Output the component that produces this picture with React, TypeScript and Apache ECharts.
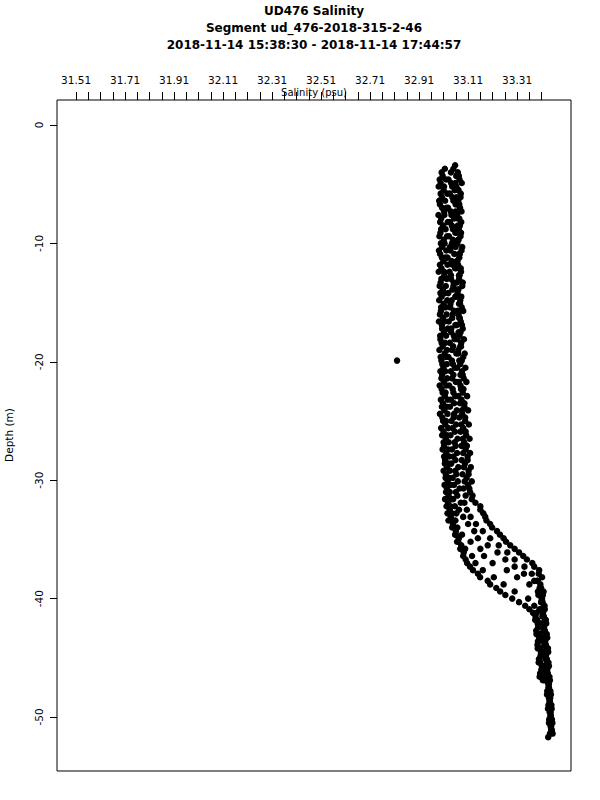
import React, { useEffect, useRef } from "react";
import * as echarts from "echarts";

const titleLines = [
  "UD476 Salinity",
  "Segment ud_476-2018-315-2-46",
  "2018-11-14 15:38:30 - 2018-11-14 17:44:57",
];
const xAxisName = "Salinity (psu)";
const yAxisName = "Depth (m)";

const salinityLabels = [31.51, 31.71, 31.91, 32.11, 32.31, 32.51, 32.71, 32.91, 33.11, 33.31];
const salinityTicks = [
  31.51, 31.56, 31.61, 31.66, 31.71, 31.76, 31.81, 31.86, 31.91, 31.96,
  32.01, 32.06, 32.11, 32.16, 32.21, 32.26, 32.31, 32.36, 32.41, 32.46,
  32.51, 32.56, 32.61, 32.66, 32.71, 32.76, 32.81, 32.86, 32.91, 32.96,
  33.01, 33.06, 33.11, 33.16, 33.21, 33.26, 33.31, 33.36, 33.41,
];
const depthLabels = [0, -10, -20, -30, -40, -50];

// depth grids (m, positive down)
const depthGridA = [
  3.4, 4.0, 4.6, 5.2, 5.8, 6.4, 7.0, 7.6, 8.2, 8.8,
  9.4, 10.0, 10.6, 11.2, 11.8, 12.4, 13.0, 13.6, 14.2, 14.8,
  15.4, 16.0, 16.6, 17.2, 17.8, 18.4, 19.0, 19.6, 20.2, 20.8,
  21.4, 22.0, 22.6, 23.2, 23.8, 24.4, 25.0, 25.6, 26.2, 26.8,
  27.4, 28.0, 28.6, 29.2, 29.8, 30.4, 31.0, 31.6, 32.2, 32.8,
  33.4, 34.0, 34.6, 35.2, 35.8, 36.4, 37.0, 37.6, 38.2, 38.8,
  39.4, 40.0, 40.6, 41.2, 41.8, 42.4, 43.0, 43.6, 44.2, 44.8,
  45.4, 46.0, 46.6, 47.2, 47.8, 48.4, 49.0, 49.6, 50.2, 50.8, 51.4,
];
const depthGridB = [
  3.7, 4.3, 4.9, 5.5, 6.1, 6.7, 7.3, 7.9, 8.5, 9.1,
  9.7, 10.3, 10.9, 11.5, 12.1, 12.7, 13.3, 13.9, 14.5, 15.1,
  15.7, 16.3, 16.9, 17.5, 18.1, 18.7, 19.3, 19.9, 20.5, 21.1,
  21.7, 22.3, 22.9, 23.5, 24.1, 24.7, 25.3, 25.9, 26.5, 27.1,
  27.7, 28.3, 28.9, 29.5, 30.1, 30.7, 31.3, 31.9, 32.5, 33.1,
  33.7, 34.3, 34.9, 35.5, 36.1, 36.7, 37.3, 37.9, 38.5, 39.1,
  39.7, 40.3, 40.9, 41.5, 42.1, 42.7, 43.3, 43.9, 44.5, 45.1,
  45.7, 46.3, 46.9, 47.5, 48.1, 48.7, 49.3, 49.9, 50.5, 51.1, 51.7,
];

// salinity (psu) per dive, on grid A
const diveA1 = [
  null, 33.002, 32.994, 32.990, 32.998, 32.992, 33.004, 32.989, 32.996, 33.000,
  32.993, 32.999, 32.991, 33.003, 32.995, 32.990, 33.001, 32.994, 32.997, 32.992,
  33.000, 32.995, 32.991, 33.004, 32.996, 33.002, 32.993, 32.998, 33.005, 32.997,
  33.001, 32.994, 33.006, 32.999, 33.003, 32.995, 33.008, 33.000, 33.004, 33.010,
  33.006, 33.012, 33.015, 33.010, 33.018, 33.014, 33.020, 33.016, 33.022, 33.026,
  33.030, 33.045, 33.057, 33.065, 33.078, 33.090, 33.106, 33.130, 33.159, 33.200,
  33.241, 33.290, 33.343, 33.375, 33.392, 33.398, 33.402, 33.395, 33.405, 33.410,
  33.404, 33.412, 33.418, null, null, null, null, null, null, null, null,
];
const diveA2 = [
  33.057, 33.040, 33.030, 33.045, 33.035, 33.050, 33.028, 33.042, 33.036, 33.048,
  33.032, 33.044, 33.038, 33.026, 33.046, 33.034, 33.040, 33.050, 33.029, 33.043,
  33.037, 33.047, 33.031, 33.041, 33.052, 33.035, 33.044, 33.030, 33.048, 33.039,
  33.045, 33.033, 33.050, 33.040, 33.036, 33.053, 33.042, 33.047, 33.038, 33.055,
  33.044, 33.050, 33.041, 33.058, 33.047, 33.052, 33.060, 33.049, 33.056, 33.062,
  33.058, 33.066, 33.085, 33.120, 33.160, 33.175, 33.210, 33.268, 33.310, 33.360,
  33.395, 33.412, 33.420, 33.414, 33.425, 33.418, 33.428, 33.421, 33.430, 33.424,
  33.432, 33.426, 33.435, 33.440, 33.433, 33.445, 33.438, 33.447, 33.441, 33.449, 33.444,
];
const diveA3 = [
  null, 33.068, 33.075, 33.062, 33.080, 33.070, 33.077, 33.065, 33.082, 33.072,
  33.079, 33.066, 33.083, 33.074, 33.069, 33.081, 33.073, 33.086, 33.067, 33.078,
  33.084, 33.071, 33.080, 33.088, 33.075, 33.082, 33.070, 33.090, 33.078, 33.085,
  33.092, 33.079, 33.088, 33.083, 33.095, 33.086, 33.098, 33.090, 33.102, 33.094,
  33.100, 33.108, 33.097, 33.112, 33.104, 33.110, 33.118, 33.125, 33.160, 33.172,
  33.185, 33.208, 33.240, 33.265, 33.300, 33.335, 33.372, 33.400, 33.412, 33.405,
  33.418, 33.410, 33.422, 33.416, 33.427, 33.420, 33.431, 33.425, 33.436, 33.428,
  33.438, 33.433, 33.442, 33.437, 33.446, 33.440, 33.450, 33.443, 33.452, 33.447, 33.455,
];
const diveA4 = [
  null, null, 33.020, 33.012, 33.025, 33.016, 33.022, 33.013, 33.027, 33.018,
  33.024, 33.014, 33.021, 33.017, 33.026, 33.012, 33.023, 33.019, 33.015, 33.025,
  33.018, 33.022, 33.014, 33.027, 33.020, 33.016, 33.024, 33.019, 33.023, 33.017,
  33.025, 33.021, 33.018, 33.027, 33.022, 33.026, 33.020, 33.029, 33.024, 33.031,
  33.027, 33.033, 33.030, 33.036, 33.032, 33.038, 33.035, 33.041, 33.038, 33.044,
  33.048, 33.052, 33.060, 33.070, 33.098, 33.126, 33.140, 33.170, 33.215, 33.255,
  33.300, 33.355, 33.380, 33.390, 33.384, 33.396, 33.389, 33.401, 33.394, 33.406,
  33.398, 33.409, 33.402, null, null, null, null, null, null, null, null,
];
// salinity (psu) per dive, on grid B
const diveB1 = [
  33.015, 33.006, 32.998, 33.010, 33.003, 32.995, 33.012, 33.000, 33.008, 32.997,
  33.011, 33.004, 32.996, 33.009, 33.001, 33.013, 32.998, 33.007, 33.002, 33.010,
  32.999, 33.008, 33.003, 33.012, 32.997, 33.006, 33.014, 33.001, 33.009, 33.004,
  33.011, 33.002, 33.015, 33.007, 33.013, 33.005, 33.017, 33.010, 33.019, 33.012,
  33.021, 33.016, 33.024, 33.019, 33.027, 33.023, 33.030, 33.028, 33.035, 33.040,
  33.048, 33.060, 33.072, 33.082, 33.092, 33.100, 33.118, 33.150, 33.190, 33.225,
  33.262, 33.318, 33.360, 33.385, 33.394, 33.388, 33.400, 33.393, 33.407, 33.399,
  33.411, 33.404, 33.415, null, null, null, null, null, null, null, null,
];
const diveB2 = [
  33.050, 33.062, 33.041, 33.055, 33.046, 33.059, 33.039, 33.053, 33.044, 33.058,
  33.048, 33.036, 33.054, 33.043, 33.057, 33.040, 33.051, 33.046, 33.060, 33.038,
  33.052, 33.045, 33.058, 33.041, 33.055, 33.049, 33.062, 33.044, 33.056, 33.050,
  33.060, 33.047, 33.058, 33.053, 33.064, 33.051, 33.061, 33.056, 33.067, 33.059,
  33.065, 33.058, 33.070, 33.062, 33.068, 33.075, 33.066, 33.080, 33.073, 33.090,
  33.110, 33.135, 33.150, 33.190, 33.230, 33.262, 33.300, 33.338, 33.380, 33.402,
  33.415, 33.408, 33.423, 33.417, 33.429, 33.422, 33.433, 33.426, 33.437, 33.430,
  33.440, 33.434, 33.444, 33.438, 33.448, 33.442, 33.451, 33.446, 33.454, 33.449, 33.437,
];
const diveB3 = [
  null, 33.072, 33.084, 33.070, 33.079, 33.066, 33.083, 33.074, 33.068, 33.081,
  33.071, 33.086, 33.076, 33.064, 33.080, 33.073, 33.088, 33.069, 33.082, 33.077,
  33.090, 33.074, 33.085, 33.079, 33.093, 33.081, 33.096, 33.084, 33.099, 33.088,
  33.103, 33.091, 33.106, 33.095, 33.110, 33.098, 33.113, 33.100, 33.116, 33.105,
  33.118, 33.108, 33.121, 33.112, 33.125, 33.115, 33.128, 33.140, 33.160, 33.180,
  33.200, 33.228, 33.255, 33.282, 33.318, 33.350, 33.380, 33.398, 33.392, 33.404,
  33.397, 33.409, 33.401, 33.413, 33.405, 33.417, 33.409, 33.421, 33.413, 33.425,
  33.417, 33.429, 33.421, null, null, null, null, null, null, null, null,
];
const diveB4 = [
  null, 33.064, 33.058, 33.070, 33.062, 33.074, 33.060, 33.068, 33.076, 33.063,
  33.069, 33.059, 33.072, 33.066, 33.061, 33.075, 33.064, 33.070, 33.058, 33.073,
  33.067, 33.076, 33.063, 33.071, 33.066, 33.078, 33.069, 33.074, 33.065, 33.079,
  33.072, 33.081, 33.070, 33.077, 33.085, 33.074, 33.082, 33.079, 33.088, 33.083,
  33.090, 33.084, 33.093, 33.087, 33.096, 33.091, 33.100, 33.095, 33.105, 33.120,
  33.142, 33.170, 33.200, 33.235, 33.270, 33.300, 33.340, 33.370, 33.395, 33.408,
  33.402, 33.414, 33.406, 33.419, 33.411, 33.423, 33.415, 33.427, 33.419, 33.431,
  33.423, 33.435, 33.428, 33.440, 33.432, 33.444, 33.436, 33.448, 33.440, 33.452, null,
];
// single outlier sample
const outlierSalinity = [32.82];
const outlierDepth = [19.9];

function buildPoints(): number[][] {
  const pts: number[][] = [];
  const addDive = (grid: number[], dive: (number | null)[]) => {
    dive.forEach((s, i) => {
      if (s !== null && grid[i] !== undefined) pts.push([s, -grid[i]]);
    });
  };
  [diveA1, diveA2, diveA3, diveA4].forEach((d) => addDive(depthGridA, d));
  [diveB1, diveB2, diveB3, diveB4].forEach((d) => addDive(depthGridB, d));
  outlierSalinity.forEach((s, i) => pts.push([s, -outlierDepth[i]]));
  return pts;
}

export default function App() {
  const ref = useRef<HTMLDivElement>(null);
  useEffect(() => {
    document.body.style.margin = "0";
    const chart = echarts.init(ref.current!, null, { renderer: "svg" });
    const axisFont = "DejaVu Sans";
    chart.setOption({
      animation: false,
      backgroundColor: "#ffffff",
      grid: {
        left: 57,
        top: 100,
        right: 29,
        bottom: 29,
        show: true,
        borderColor: "#000",
        borderWidth: 1,
        backgroundColor: "transparent",
      },
      xAxis: {
        type: "value",
        position: "top",
        min: 31.432,
        max: 33.53,
        axisLine: { show: false, onZero: false },
        splitLine: { show: false },
        axisTick: {
          show: true,
          inside: false,
          length: 8,
          customValues: salinityTicks,
          lineStyle: { color: "#000", width: 1 },
        },
        axisLabel: {
          show: true,
          customValues: salinityLabels,
          formatter: (v: number) => v.toFixed(2),
          color: "#000",
          fontFamily: axisFont,
          fontSize: 10.5,
          margin: 15,
        },
      },
      yAxis: {
        type: "value",
        min: -54.56,
        max: 2.11,
        axisLine: { show: false, onZero: false },
        splitLine: { show: false },
        axisTick: {
          show: true,
          inside: false,
          length: 7,
          customValues: depthLabels,
          lineStyle: { color: "#000", width: 1 },
        },
        axisLabel: {
          show: true,
          customValues: depthLabels,
          formatter: (v: number) => String(v),
          rotate: 90,
          color: "#000",
          fontFamily: axisFont,
          fontSize: 10.5,
          margin: 13,
        },
      },
      graphic: [
        ...titleLines.map((t, i) => ({
          type: "text",
          x: 314,
          y: 11 + i * 17,
          style: {
            text: t,
            fill: "#000",
            font: "bold 12px 'DejaVu Sans'",
            align: "center",
            verticalAlign: "middle",
          },
        })),
        {
          type: "text",
          x: 314,
          y: 92,
          style: {
            text: xAxisName,
            fill: "#000",
            font: `10px '${axisFont}'`,
            align: "center",
            verticalAlign: "middle",
          },
        },
        {
          type: "text",
          x: 8.5,
          y: 435,
          rotation: Math.PI / 2,
          style: {
            text: yAxisName,
            fill: "#000",
            font: `10.5px '${axisFont}'`,
            align: "center",
            verticalAlign: "middle",
          },
        },
      ],
      series: [
        {
          type: "scatter",
          data: buildPoints(),
          symbol: "circle",
          symbolSize: 6.5,
          itemStyle: { color: "#000", opacity: 1 },
          clip: false,
        },
      ],
    });
    return () => chart.dispose();
  }, []);
  return <div ref={ref} style={{ width: 600, height: 800 }} />;
}
